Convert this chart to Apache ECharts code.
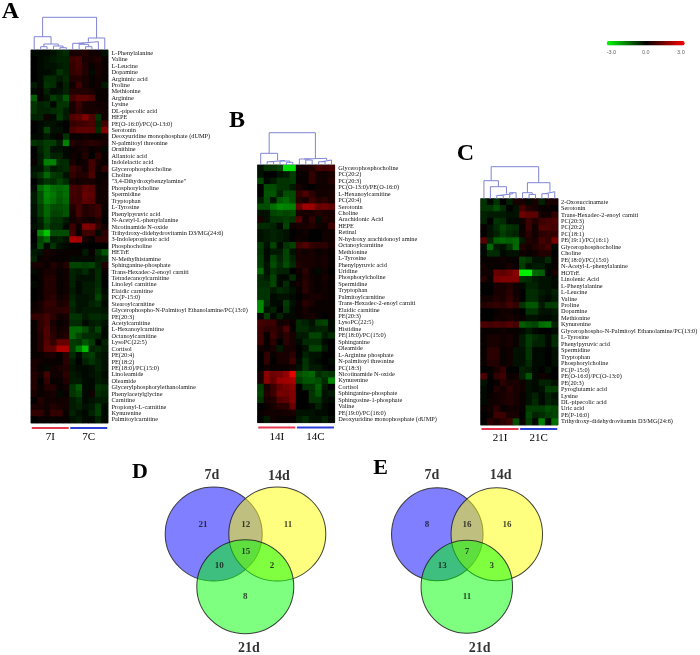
<!DOCTYPE html>
<html>
<head>
<meta charset="utf-8">
<style>html,body{margin:0;padding:0;background:#fff}#chart{width:700px;height:655px;filter:blur(0.45px)}</style>
<script src="https://cdn.jsdelivr.net/npm/echarts@6/dist/echarts.min.js"></script>
</head>
<body>
<div id="chart"></div>
<script>
const rowsA = ['L-Phenylalanine','Valine','L-Leucine','Dopamine','Argininic acid','Proline','Methionine','Arginine','Lysine','DL-pipecolic acid','HEPE','PE(O-16:0)/PC(O-13:0)','Serotonin','Deoxyuridine monophosphate (dUMP)','N-palmitoyl threonine','Ornithine','Allantoic acid','Indolelactic acid','Glycerophosphocholine','Choline','"3,4-Dihydroxybenzylamine"','Phosphorylcholine','Spermidine','Tryptophan','L-Tyrosine','Phenylpyruvic acid','N-Acetyl-L-phenylalanine','Nicotinamide N-oxide','Trihydroxy-didehydrovitamin D3/MG(24:6)','3-Indolepropionic acid','Phosphocholine','HETrE','N-Methylhistamine','Sphinganine-phosphate','Trans-Hexadec-2-enoyl carniti','Tetradecanoylcarnitine','Linoleyl carnitine','Elaidic carnitine','PC(P-15:0)','Stearoylcarnitine','Glycerophospho-N-Palmitoyl Ethanolamine/PC(13:0)','PE(20:3)','Acetylcarnitine','L-Hexanoylcarnitine','Octanoylcarnitine','LysoPC(22:5)','Cortisol','PE(20:4)','PE(18:2)','PE(18:0)/PC(15:0)','Linoleamide','Oleamide','Glycerylphosphorylethanolamine','Phenylacetylglycine','Carnitine','Propionyl-L-carnitine','Kynurenine','Palmitoylcarnitine'];
const valuesA = [
[-.1,-.1,-.1,-.2,-.4,-.5,.3,.3,.4,.2,.2,-.2],
[0,-.1,-.2,-.3,-.4,-.4,.7,.8,.3,.3,.4,.1],
[0,-.1,-.2,-.2,-.3,-.4,.6,.8,.4,.1,.3,.1],
[0,-.1,-.1,-.2,-.6,-.4,.6,.7,.4,-.1,.3,.1],
[0,-.1,-.5,-.5,-.3,-.5,.4,.4,.3,.1,.2,.1],
[-.3,-.1,-.6,-.5,-.1,-.4,.2,.7,.3,.1,.2,-.3],
[-.1,.1,-.4,-.1,-.2,-.4,.4,.4,.4,.3,.1,.1],
[-1.1,.1,-.2,-.7,-.5,-1,.8,1.1,1.1,.9,.1,.1],
[-.6,-.4,-.5,-.1,-.6,-.6,.3,.7,.3,.3,.2,.2],
[-.6,-.4,-.4,-.5,-.6,-.3,.3,.6,.3,.3,.3,.2],
[-.4,-.4,.2,-.1,-.7,-.3,1,1.1,1.5,.9,-.6,.2],
[0,-.1,-.2,-.2,-.1,0,.6,.7,.8,.9,-.4,.8],
[0,-.1,-.8,-.2,-.2,0,.9,1.1,1.1,1.1,-.5,1.5],
[-.1,-.1,-.3,-.1,.1,-.6,.1,.1,.2,.1,.1,.2],
[-.6,-.5,-.7,-.7,-.3,-1.5,.4,.3,.4,.5,.4,.3],
[0,-.4,-.7,-.2,-.2,-.1,.1,.2,.3,.1,.2,-.1],
[0,-.3,-.7,-.4,-.4,-.1,.2,.1,.4,0,.5,.1],
[.1,-.3,-1.5,-1.5,-.5,-.5,.3,.1,.2,.8,.3,.1],
[-.2,-.2,-.7,-.3,-.4,-.5,.7,.5,.2,.8,.2,.6],
[-.3,-.6,-1.2,-.7,-.6,-.2,.6,.4,.4,.9,.1,.1],
[0,-.3,-.6,-.5,-.8,-.5,.3,.2,.3,.3,.1,.2],
[-.1,-1.2,-1.6,-1.3,-1.2,-1.3,.8,.7,1.1,1,.2,.2],
[-.3,-.9,-1.6,-1.4,-1.1,-1.3,.8,.7,1.2,1.1,.2,.2],
[-.3,-.9,-1.5,-1.3,-1,-1.2,.7,.7,1.1,1,.2,.2],
[-.2,-.7,-1.2,-.9,-.9,-1,.4,.8,.4,.5,.7,.1],
[-.2,-.7,-1.2,-.8,-.8,-1,.3,.8,.4,.5,.7,.1],
[-.1,-.4,-1,-.6,-.6,-.3,.2,.4,.3,.2,.4,0],
[-.2,-.3,-.8,-.5,-.5,-.1,.7,.2,1.5,1.4,.6,.2],
[0,-1.6,-2.3,-.9,-.9,-.9,.8,.1,.7,.7,-.1,.5],
[0,-.8,-1.2,-.3,-.4,-.2,2,1.9,.3,.1,.6,.6],
[-.1,-.9,-.1,-.6,-.2,-.1,0,0,0,0,0,0],
[-.3,-.2,.3,.2,.1,.1,.1,.1,-.3,.1,-.5,-1],
[-.4,.1,.2,.1,.1,.1,-.1,-.1,-.1,-.1,-.3,-.4],
[.3,.3,.1,.4,.2,.4,-.8,-.8,-.7,-.8,-.4,.4],
[-.1,.1,.3,.3,.1,.2,-.4,-.3,-.5,-.2,-.5,.1],
[0,.1,.4,.4,.1,.2,-.4,-.2,-.2,-.2,-.5,0],
[-.1,.1,.4,.4,.1,.2,-.4,-.1,-.3,-.3,-.5,0],
[0,.1,.4,.4,.1,.2,-.3,-.1,-.3,-.3,-.6,-.1],
[0,.1,.4,.5,.2,.3,-.4,-.2,-.2,-.3,-.8,-.2],
[.1,.3,.6,.6,.3,.4,-.5,-.2,-.2,-.4,-.5,-.1],
[.2,.3,.5,.5,.5,.6,-.4,-.2,-.3,-.3,-.3,-.2],
[.6,.6,.8,.5,.2,.3,-.6,-.6,-.3,-.5,-.5,-.4],
[.1,.5,.8,.3,.1,.2,-.5,-.5,-.1,-.3,-.4,-.2],
[.1,.5,.9,.4,.2,.3,-1.2,-1.2,-.9,-.4,-.8,-.1],
[.1,.4,.9,.5,.3,.4,-1.2,-.8,-.5,-.5,-.4,-.1],
[.1,.4,1,.6,1.2,1.2,-.7,-.6,-1,-.7,0,-.4],
[.1,.4,1.1,1.1,2,2,-.7,-1.4,-2.2,-.4,-.5,-.3],
[.1,.1,.3,.3,.1,.5,-.5,-.1,-.6,-.7,-.3,-.2],
[.3,.2,.1,.1,.1,.5,-.3,0,-.4,-.6,-.4,-.2],
[.3,.1,-.1,.2,.3,.4,-.2,-.1,-.1,-.2,-.4,-.2],
[.4,.2,.8,.2,.2,.5,-.3,-.2,-.1,-.2,-.3,-.1],
[.4,0,.6,.1,.1,.4,-.3,-.3,-.1,-.1,-.3,-.2],
[.4,.1,.4,.4,.1,.2,-.6,-1,-.1,-.1,-.6,-.5],
[.3,.1,.2,.3,-.1,.1,-.6,-.8,-.1,.2,-.5,-.4],
[0,.4,.2,.2,.2,.2,-.3,-.5,-.1,-.2,-.3,-.3],
[.3,.3,.2,.4,.3,.2,-.3,-.4,-.2,-.3,-.7,-.1],
[.6,.6,.2,.6,.6,.1,-.4,-.2,-.1,-.4,-.7,-.1],
[0,.1,.1,.1,.1,.1,-.2,-.3,-.1,-.1,-.4,-.1]
];
const rowsB = ['Glycerophosphocholine','PC(20:2)','PC(20:3)','PC(O-13:0)/PE(O-16:0)','L-Hexanoylcarnitine','PC(20:4)','Serotonin','Choline','Arachidonic Acid','HEPE','Retinal','N-hydroxy arachidonoyl amine','Octanoylcarnitine','Methionine','L-Tyrosine','Phenylpyruvic acid','Uridine','Phosphorylcholine','Spermidine','Tryptophan','Palmitoylcarnitine','Trans-Hexadec-2-enoyl carniti','Elaidic carnitine','PE(20:3)','LysoPC(22:5)','Histidine','PE(18:0)/PC(15:0)','Sphinganine','Oleamide','L-Arginine phosphate','N-palmitoyl threonine','PC(18:3)','Nicotinamide N-oxide','Kynurenine','Cortisol','Sphinganine-phosphate','Sphingosine-1-phosphate','Valine','PE(19:0)/PC(16:0)','Deoxyuridine monophosphate (dUMP)'];
const valuesB = [
[-.2,-.6,-.6,-.8,-2.6,-2.6,.2,.3,.4,.8,.7,.8],
[-.2,0,0,-.2,-.3,-.7,.1,.1,.6,.2,.2,.3],
[-.8,-.1,-.3,-.6,-.6,-.7,.1,.1,.6,.2,.2,.4],
[0,-.9,-.9,-.6,-.6,-.3,.3,.1,0,.2,.2,.2],
[0,-1,-1,-.4,-.9,-.9,.6,.9,.5,.2,.2,.3],
[-.3,-.9,-.2,-1,-1.2,-.9,.4,.3,.7,.4,.5,.3],
[-.9,-.9,-1.3,-1.6,-1.5,-1.5,1.2,1.9,1.8,1.2,1.3,1.1],
[-.2,-.2,-.8,-.9,-.8,-.9,.3,.3,.3,.4,.3,.3],
[.3,-.2,-.6,-.6,-.7,-.6,1,.2,.6,-.1,.4,.3],
[-.5,-.5,-.4,-.1,-.8,.2,.3,.3,.4,.2,.1,.7],
[-.2,-.3,-.4,-.3,-.2,0,.1,.2,0,0,.2,.2],
[-.2,-.3,-.4,-.3,-.2,0,.2,.1,0,0,.2,.2],
[-.7,-.2,-.8,-.1,-.6,-.8,.7,1,.6,.5,.5,.3],
[-.6,-.1,-.3,-.3,-.8,-.2,.3,.2,.3,.1,.2,.1],
[-.7,-.1,-.8,-.4,-.8,-.4,.3,.3,.3,.2,.3,.1],
[-.7,-.2,-.9,-.5,-.9,-.5,.4,.3,.3,.2,.3,.1],
[-1.2,-.2,-.6,-.4,-.4,0,.2,.5,.1,-.1,.2,0],
[-.5,-.3,-.8,-.1,-.1,-.5,.1,.4,.2,.1,.3,.1],
[-.5,-.5,-.8,-.1,-.5,.1,.2,.5,.2,.1,.2,.1],
[-.6,-.6,-.3,-.5,-.4,-.2,.1,.5,.2,.1,.2,.1],
[-.6,-.6,-.1,-.2,-.2,-.1,0,.2,.3,.3,.2,.1],
[-1.6,-.5,-.1,-.1,-.7,-.2,.1,.5,.3,.1,.1,.1],
[-1.6,-.2,-.4,0,-.6,-.1,.1,.3,.1,.1,.1,.1],
[0,-.7,-.1,-.4,-.1,-.1,.1,.2,.3,.1,0,.1],
[.8,.7,.7,.2,.3,.1,-.5,-.4,-.2,-.7,-.8,-.1],
[.7,.5,.6,.4,.9,.1,-.5,-.5,-.3,-.4,-.4,-.1],
[.7,.1,.7,.3,.5,.3,-.3,-.3,-.8,-.8,-.3,-.5],
[.7,.1,.5,0,.5,.3,-.1,-.5,-.5,-.5,-.1,0],
[.2,.1,.3,-.3,.3,.3,0,-.2,-.8,-.8,-.3,0],
[0,.6,.1,.3,.3,.5,0,-.4,-.2,-.2,0,0],
[0,.6,0,.3,.3,.7,-.1,-.6,-.2,-.1,0,-.1],
[0,.2,.1,.1,.1,.2,-.2,-.6,-.3,-.3,-.1,0],
[.3,1.6,1.3,1.4,1.7,2.7,-.9,-1.1,-1.2,-.5,-.7,-.6],
[.3,1.6,1.2,1.8,1.9,2,-.7,-1,-1,-.9,-.5,-1.5],
[-.7,.3,.7,1.2,1.4,1.6,0,-.6,-.6,-1.1,-.3,0],
[-.8,.4,.7,1.4,1.3,1.5,0,0,-.6,-1,-.2,-.3],
[-.6,.3,.4,1,1.1,1.5,0,0,-.6,-.6,-.2,-.1],
[0,.1,.3,.5,.5,1.2,0,0,-.1,-.4,-.1,0],
[.1,.2,.2,.2,.3,.3,-.2,-.2,-.2,-.1,-.1,0],
[0,-.3,.2,.1,.1,.1,-.3,-.5,-.2,-.2,-.4,-.1]
];
const rowsC = ['2-Oxosuccinamate','Serotonin','Trans-Hexadec-2-enoyl carniti','PC(20:3)','PC(20:2)','PC(18:1)','PE(19:1)/PC(16:1)','Glycerophosphocholine','Choline','PE(18:0)/PC(15:0)','N-Acetyl-L-phenylalanine','HOTrE','Linolenic Acid','L-Phenylalanine','L-Leucine','Valine','Proline','Dopamine','Methionine','Kynurenine','Glycerophospho-N-Palmitoyl Ethanolamine/PC(13:0)','L-Tyrosine','Phenylpyruvic acid','Spermidine','Tryptophan','Phosphorylcholine','PC(P-15:0)','PE(O-16:0)/PC(O-13:0)','PE(20:3)','Pyroglutamic acid','Lysine','DL-pipecolic acid','Uric acid','PE(P-16:0)','Trihydroxy-didehydrovitamin D3/MG(24:6)'];
const valuesC = [
[-.6,-.1,-.6,0,-.4,.3,.3,-.1,.3,-.4,.3,.3],
[-.6,-.6,-.9,-.5,0,-.2,.8,.4,.3,.1,.1,0],
[-.4,-.3,-.3,-.3,-.2,-.2,1.3,1.1,1.1,.2,.2,.6],
[-.4,0,-.6,-.5,-.1,-.1,.2,.7,.4,.7,.8,.9],
[.1,-.2,-.5,-.8,-.6,-.5,.1,.7,.2,.9,.9,.8],
[0,-.2,-.4,-.7,-.5,-.4,.2,.5,.2,.5,.6,.6],
[1,-.4,-1.1,-1.2,-1.1,-1.2,-.3,.4,.3,.8,.6,1.4],
[-.1,-1.2,-.3,-.2,-.6,-1.2,.4,.2,.4,.6,.8,-.1],
[-.1,-.5,-.5,-.1,-.2,-.2,.2,.1,.2,.4,.4,0],
[.1,.1,.1,.2,.1,.1,-.8,-.6,-.2,-.2,-.5,.1],
[.2,.1,.1,.1,.3,.1,-.7,-.2,-.3,-.3,-.1,.1],
[.2,.2,1.2,1.1,1.3,1.6,-2.8,-2.8,-1.2,-1.1,0,.3],
[.4,.1,1.4,1.5,1.5,1.5,-.6,-.5,-.3,-.2,-.2,-.1],
[0,0,.3,.3,.4,.2,-.1,-.4,-.4,-.2,-.2,-.1],
[0,0,.3,.3,.5,.2,0,-.5,-.5,-.3,-.2,-.4],
[.2,.2,.4,.3,.6,.3,0,-.5,-.5,-.2,-.1,-.3],
[.4,.5,.6,.5,.8,.6,-.6,-1,-1,-.3,-.7,-.7],
[0,0,.1,.2,.2,.1,0,-.6,-.6,-.2,-.2,-.3],
[0,0,.2,.2,.3,.2,.1,-.2,-.2,-.1,-.1,-.2],
[.9,.8,.9,.8,1,.8,-1.1,-.9,-.8,-1.3,-1.4,-.4],
[.1,.1,.1,.2,.1,.1,-.1,-.3,-.1,0,0,-.1],
[.1,.3,.3,.2,.3,.1,-.3,-.7,-.5,-.4,-.1,-.5],
[.1,.3,.3,.2,.3,.1,-.3,-.7,-.4,-.4,-.1,-.5],
[.1,.5,.5,.1,.2,-.2,-.2,-.6,-.1,-.1,0,-.2],
[.1,.5,.5,.1,.2,-.2,-.2,-.6,-.1,-.1,0,-.2],
[.1,.4,.4,.1,.2,-.2,-.2,-.5,-.1,-.1,0,-.2],
[0,0,.3,.6,0,0,-.4,-.3,-.1,0,-.2,0],
[.9,0,.6,.7,.1,.2,-.4,-1,-.1,.2,.1,0],
[-.2,0,.1,.5,.3,.3,.2,-.2,-.1,-.4,-.4,-.2],
[-.1,0,.4,.2,.5,.3,.2,-.2,-.1,-.2,-.7,-.7],
[-.1,.1,.2,.3,.4,.3,.1,-.2,-.4,-.1,-.4,-.2],
[-.1,.2,.2,.3,.4,.3,.1,-.2,-.5,-.1,-.4,-.3],
[.1,.2,.5,.1,.2,.2,.1,-.7,-.7,-.7,-.9,-.8],
[0,.1,.7,.7,.3,.3,0,-.8,-.4,-.5,-.7,-.8],
[0,.5,.3,.5,.7,-.9,.1,-.7,-.1,-1.5,-.1,-1.3]
];
// Dendrograms: [height, left, right]; a number is a column index.
const treeA = [32.7,[13.3,0,[6,[3.3,1,2],[4,3,[2.3,4,5]]]],[12,[8.3,[6.7,6,[5.7,7,[3.3,8,9]]],10],11]];
const treeB = [32.3,[11.7,0,[4.5,[3.3,1,2],[4,3,[2.7,4,5]]]],[6.7,[6,6,[5,7,8]],[5,[3.3,9,10],11]]];
const treeC = [32,[18,0,[12,1,[5,[3.3,2,3],[6,4,5]]]],[16,[6,6,[4.3,7,8]],[7,[5,9,10],11]]];
const groupsA = ['7I','7C'], groupsB = ['14I','14C'], groupsC = ['21I','21C'];
const setNames = ['7d','14d','21d'];
const countsD = [21,12,11,10,15,2,8];
const countsE = [8,16,16,13,7,3,11];
const colorTicks = [-3,0,3];

// ---- layout (separate from the values) ----
const panels = [
  {rows:rowsA,vals:valuesA,tree:treeA,groups:groupsA,left:31,top:50,width:77,height:373,stripTop:427,labelMargin:3.5},
  {rows:rowsB,vals:valuesB,tree:treeB,groups:groupsB,left:257.5,top:165,width:77.2,height:257.7,stripTop:426.5,labelMargin:3.5},
  {rows:rowsC,vals:valuesC,tree:treeC,groups:groupsC,left:480.7,top:198.7,width:77.3,height:226.3,stripTop:428,labelMargin:3}
];
const columns = Array.from({length:12},(_,i)=>'c'+(i+1));
const grid=[],xAxis=[],yAxis=[],series=[];
const dendroSeries=[], stripSeries=[];
const free={outerBoundsMode:'none',containLabel:false};

function segments(node,out){
  if(typeof node==='number') return {x:node,h:0};
  const l=segments(node[1],out), r=segments(node[2],out), h=node[0];
  out.push([l.x,l.h],[l.x,h],[r.x,h],[r.x,r.h],[null,null]);
  return {x:(l.x+r.x)/2,h};
}
panels.forEach((p,i)=>{
  let g=grid.length;
  grid.push({...free,left:p.left,top:p.top,width:p.width,height:p.height,show:true,backgroundColor:'#000',borderColor:'#777',borderWidth:1});
  xAxis.push({type:'category',gridIndex:g,data:columns,show:false});
  yAxis.push({type:'category',gridIndex:g,data:p.rows,inverse:true,position:'right',
    axisLine:{show:false},axisTick:{show:false},splitLine:{show:false},
    axisLabel:{show:true,interval:0,margin:p.labelMargin,fontFamily:'Liberation Serif',fontSize:6.3,color:'#111',hideOverlap:false}});
  const data=[];
  p.vals.forEach((r,y)=>r.forEach((v,x)=>data.push([x,y,v])));
  series.push({type:'heatmap',xAxisIndex:g,yAxisIndex:g,data,silent:true,itemStyle:{borderWidth:0},progressive:0});
  g=grid.length;
  grid.push({...free,left:p.left,top:p.top-40,width:p.width,height:40});
  xAxis.push({type:'value',gridIndex:g,min:-0.5,max:11.5,show:false});
  yAxis.push({type:'value',gridIndex:g,min:0,max:40,show:false});
  const pts=[]; segments(p.tree,pts);
  dendroSeries.push({type:'line',xAxisIndex:g,yAxisIndex:g,data:pts,showSymbol:false,connectNulls:false,silent:true,
    lineStyle:{color:'#8084d4',width:1}});
  g=grid.length;
  grid.push({...free,left:p.left,top:p.stripTop,width:p.width,height:2});
  xAxis.push({type:'category',gridIndex:g,data:p.groups,axisLine:{show:false},axisTick:{show:false},
    axisLabel:{interval:0,margin:3,fontFamily:'Liberation Serif',fontSize:11,color:'#000'}});
  yAxis.push({type:'value',gridIndex:g,min:0,max:1,show:false});
  stripSeries.push({type:'bar',xAxisIndex:g,yAxisIndex:g,barWidth:'96%',silent:true,
    data:[{value:1,itemStyle:{color:'#e8384f'}},{value:1,itemStyle:{color:'#2b3fd8'}}]});
});
series.push(...dendroSeries,...stripSeries);

{
  const g=grid.length;
  grid.push({...free,left:606.7,top:46,width:78,height:1});
  xAxis.push({type:'value',gridIndex:g,min:-3,max:3,interval:3,axisLine:{show:false},axisTick:{show:false},splitLine:{show:false},
    axisLabel:{margin:2,fontFamily:'Liberation Sans',fontSize:5.5,color:'#666',alignMinLabel:'left',alignMaxLabel:'right',
      customValues:colorTicks,formatter:v=>v.toFixed(1)}});
  yAxis.push({type:'value',gridIndex:g,min:0,max:1,show:false});
}

const vg=grid.length;
grid.push({...free,left:0,top:0,width:700,height:655});
xAxis.push({type:'value',gridIndex:vg,min:0,max:700,show:false});
yAxis.push({type:'value',gridIndex:vg,min:0,max:655,inverse:true,show:false});
const vennLayouts=[
 {circles:[[213.7,534,97,94],[277.3,534,97,94],[245.3,586.7,97,94]],
  counts:countsD,countAt:[[203,524.5],[245.7,524.5],[288,524.5],[219.3,565.7],[245.7,551.7],[272,565.7],[245.3,597]],
  nameAt:[[212,475],[279,476],[249,648]]},
 {circles:[[437.3,534.3,91.5,93],[496.8,534.3,91.5,93],[466.8,586.7,91.5,93]],
  counts:countsE,countAt:[[427,524.7],[467,524.7],[507,524.7],[442.3,565.7],[467,551.7],[491.7,566],[467,597]],
  nameAt:[[432,475.5],[500.7,475],[479.7,648]]}
];
const vennFill=['rgba(0,0,255,0.5)','rgba(255,255,0,0.5)','rgba(0,255,0,0.5)'];
vennLayouts.forEach(v=>{
  v.circles.forEach((c,i)=>series.push({type:'scatter',xAxisIndex:vg,yAxisIndex:vg,silent:true,
    data:[[c[0],c[1]]],symbol:'circle',symbolSize:[c[2],c[3]],
    itemStyle:{color:vennFill[i],borderColor:'rgba(30,30,30,0.85)',borderWidth:1,opacity:1},z:3}));
  series.push({type:'scatter',xAxisIndex:vg,yAxisIndex:vg,silent:true,symbolSize:0,z:5,
    data:v.counts.map((n,i)=>({value:[v.countAt[i][0],v.countAt[i][1]],label:{formatter:String(n)}})),
    label:{show:true,position:'inside',fontFamily:'Liberation Serif',fontWeight:'bold',fontSize:9,color:'#111'}});
  series.push({type:'scatter',xAxisIndex:vg,yAxisIndex:vg,silent:true,symbolSize:0,z:5,
    data:setNames.map((n,i)=>({value:[v.nameAt[i][0],v.nameAt[i][1]],label:{formatter:n}})),
    label:{show:true,position:'inside',fontFamily:'Liberation Serif',fontWeight:'bold',fontSize:14,color:'#000'}});
});

const letter=(t,x,y,s)=>({type:'text',x,y,style:{text:t,font:'bold '+s+'px "Liberation Serif"',fill:'#000',textAlign:'center',textVerticalAlign:'middle'}});
const option={
  animation:false,backgroundColor:'#fff',grid,xAxis,yAxis,series,
  visualMap:{type:'continuous',seriesIndex:[0,1,2],dimension:2,min:-3,max:3,calculable:false,orient:'horizontal',
    left:606.7,top:41,itemHeight:78,itemWidth:4.5,text:null,showLabel:false,padding:0,
    inRange:{color:['#00ff00','#000000','#ff0000']}},
  graphic:[letter('A',10.5,11.5,24),letter('B',237,120.5,24),letter('C',465.5,154,24),letter('D',140,472,22),letter('E',380.5,468.5,22)]
};
echarts.init(document.getElementById('chart'),null,{renderer:'canvas'}).setOption(option);
</script>
</body>
</html>
